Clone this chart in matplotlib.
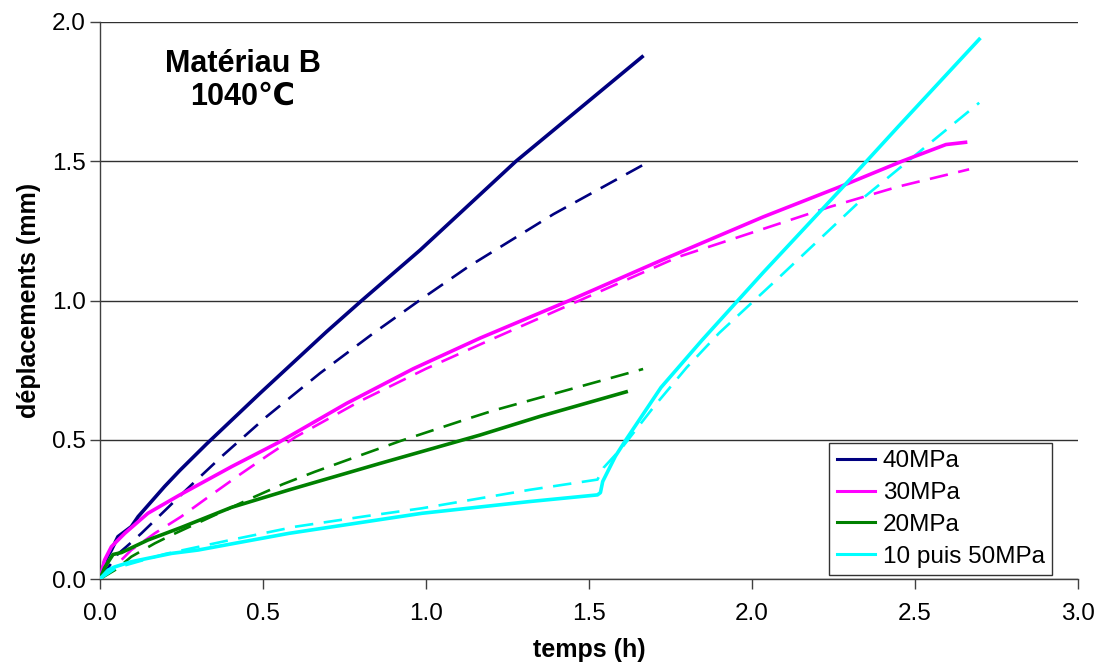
import numpy as np
import matplotlib
matplotlib.use("Agg")
import matplotlib.pyplot as plt

plt.rcParams['font.family'] = ['Liberation Sans', 'DejaVu Sans']

# --- measured curves (solid) and model curves (dashed), read off the graph ---
# 40 MPa
t40 = [0, 0.014, 0.035, 0.055, 0.096, 0.117, 0.198, 0.245, 0.327, 0.491, 0.695,
       0.803, 0.982, 1.276, 1.50, 1.663]
d40 = [0, 0.062, 0.104, 0.152, 0.188, 0.224, 0.332, 0.39, 0.485, 0.667, 0.888,
       1.00, 1.181, 1.50, 1.717, 1.875]
t40_fit = [0, 0.055, 0.081, 0.127, 0.26, 0.286, 0.378, 0.511, 0.675, 0.838, 0.982,
           1.128, 1.391, 1.663]
d40_fit = [0, 0.09, 0.116, 0.164, 0.315, 0.344, 0.445, 0.583, 0.739, 0.882, 1.002,
           1.12, 1.31, 1.485]

# 30 MPa
t30 = [0, 0.014, 0.035, 0.076, 0.147, 0.245, 0.403, 0.552, 0.757, 0.961, 1.166,
       1.44, 1.723, 2.034, 2.273, 2.46, 2.595, 2.655]
d30 = [0, 0.068, 0.116, 0.164, 0.236, 0.302, 0.403, 0.493, 0.631, 0.755, 0.865,
       1.00, 1.145, 1.30, 1.41, 1.50, 1.56, 1.568]
t30_fit = [0, 0.05, 0.096, 0.168, 0.249, 0.327, 0.429, 0.516, 0.60, 0.80, 1.00,
           1.20, 1.50, 1.775, 1.993, 2.241, 2.449, 2.666]
d30_fit = [0, 0.05, 0.104, 0.164, 0.224, 0.29, 0.375, 0.445, 0.51, 0.64, 0.755,
           0.86, 1.015, 1.157, 1.241, 1.337, 1.409, 1.471]

# 20 MPa
t20 = [0, 0.014, 0.03, 0.04, 0.066, 0.147, 0.249, 0.403, 0.58, 0.859, 1.166,
       1.35, 1.614]
d20 = [0, 0.04, 0.07, 0.088, 0.095, 0.14, 0.185, 0.257, 0.32, 0.415, 0.517,
       0.584, 0.672]
t20_fit = [0, 0.05, 0.096, 0.168, 0.22, 0.464, 0.56, 0.659, 0.777, 0.92, 1.135,
           1.207, 1.537, 1.666]
d20_fit = [0, 0.035, 0.08, 0.128, 0.158, 0.29, 0.34, 0.385, 0.435, 0.495, 0.578,
           0.605, 0.712, 0.754]

# 10 then 50 MPa
t10 = [0, 0.025, 0.044, 0.096, 0.22, 0.301, 0.58, 0.988, 1.317, 1.526, 1.535,
       1.542, 1.581, 1.614, 1.721, 1.847, 2.034, 2.273, 2.449, 2.697]
d10 = [0, 0.032, 0.043, 0.062, 0.092, 0.104, 0.164, 0.236, 0.278, 0.302, 0.31,
       0.35, 0.441, 0.501, 0.688, 0.858, 1.10, 1.40, 1.625, 1.938]
t10_fit = [0, 0.05, 0.20, 0.40, 0.60, 0.818, 0.988, 1.317, 1.526, 1.545, 1.60,
           1.70, 1.80, 1.899, 2.075, 2.346, 2.697]
d10_fit = [0, 0.04, 0.09, 0.14, 0.188, 0.226, 0.254, 0.32, 0.357, 0.40, 0.47,
           0.62, 0.76, 0.883, 1.074, 1.373, 1.71]

labels = ['40MPa', '30MPa', '20MPa', '10 puis 50MPa']
colors = ['#000080', '#FF00FF', '#008000', '#00FFFF']

xticks = [0.0, 0.5, 1.0, 1.5, 2.0, 2.5, 3.0]
yticks = [0.0, 0.5, 1.0, 1.5, 2.0]

fig = plt.figure(figsize=(10.98, 6.69), dpi=100)
ax = fig.add_axes([100/1098, 1 - 579/669, 978/1098, 557/669])

measured = [(t40, d40), (t30, d30), (t20, d20), (t10, d10)]
fitted = [(t40_fit, d40_fit), (t30_fit, d30_fit), (t20_fit, d20_fit), (t10_fit, d10_fit)]

for (t, d), (tf, df), c, lab in zip(measured, fitted, colors, labels):
    ax.plot(tf, df, color=c, lw=1.9, dashes=(7, 4), zorder=2)
    ax.plot(t, d, color=c, lw=2.6, label=lab, zorder=3)

ax.set_xlim(0, 3.0)
ax.set_ylim(0, 2.0)
ax.set_xticks(xticks)
ax.set_yticks(yticks)
ax.set_xticklabels([f"{v:.1f}" for v in xticks])
ax.set_yticklabels([f"{v:.1f}" for v in yticks])
ax.tick_params(axis='both', direction='out', length=7, width=1, labelsize=17.5,
               color='#404040')
ax.tick_params(axis='x', pad=10)
ax.tick_params(axis='y', pad=3)

ax.grid(axis='y', color='#303030', lw=1)
ax.set_axisbelow(True)
for side in ['top', 'right']:
    ax.spines[side].set_visible(False)
for side in ['left', 'bottom']:
    ax.spines[side].set_color('#404040')
    ax.spines[side].set_linewidth(1)

ax.set_xlabel('temps (h)', fontsize=18, fontweight='bold', labelpad=10)
ax.set_ylabel('déplacements (mm)', fontsize=18, fontweight='bold', labelpad=8)

ax.text(0.437, 1.79, 'Matériau B\n1040℃', fontsize=22, fontweight='bold',
        ha='center', va='center', multialignment='center', linespacing=1.15)

leg = fig.legend(loc='upper right', bbox_to_anchor=(1052/1098, 1 - 443/669),
                 fontsize=17.5, frameon=True, fancybox=False, borderaxespad=0,
                 handlelength=1.6, handletextpad=0.3, labelspacing=0.4,
                 borderpad=0.3)
leg.get_frame().set_edgecolor('black')
leg.get_frame().set_linewidth(1)
for h in leg.get_lines():
    h.set_linewidth(2.2)

fig.savefig('out.png', dpi=100)
